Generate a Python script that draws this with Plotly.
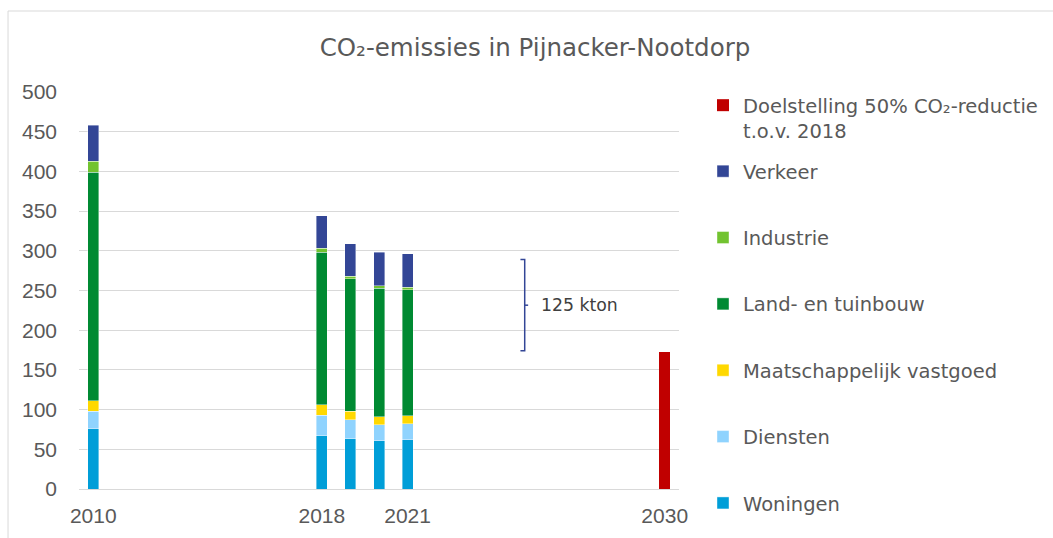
import plotly.graph_objects as go

# ---- data ----
years = [2010, 2018, 2019, 2020, 2021]
woningen = [76, 67, 63, 61, 62]
diensten = [22, 26, 24, 20, 20]
maatsch = [13, 13, 11, 10, 10]
land = [288, 192, 167, 162, 159]
industrie = [14, 5, 3, 3, 3]
verkeer = [45, 41, 41, 42, 42]
target_year = [2030]
target_value = [172]
tick_years = [2010, 2018, 2021, 2030]
bracket_low, bracket_high = 174, 289
bracket_label = "125 kton"

series = [
    ("Woningen", woningen, "#009ED8"),
    ("Diensten", diensten, "#8FD3FE"),
    ("Maatschappelijk vastgoed", maatsch, "#FFD800"),
    ("Land- en tuinbouw", land, "#008A32"),
    ("Industrie", industrie, "#72C330"),
    ("Verkeer", verkeer, "#334696"),
]

FONT = "DejaVu Sans"
NUMFONT = "Liberation Sans"
TXT = "#595959"

fig = go.Figure()
n = len(series)
for i, (name, vals, col) in enumerate(series):
    fig.add_trace(go.Bar(
        x=years, y=vals, name=name, legendgroup=name, legendrank=100 + (n - i),
        marker=dict(color=col, line=dict(color="rgba(255,255,255,0.5)", width=0.8)),
    ))
fig.add_trace(go.Bar(
    x=target_year, y=target_value, name="Doelstelling 50% CO₂-reductie<br>t.o.v. 2018",
    legendgroup="doel", legend="legend2",
    marker=dict(color="#C00000", line=dict(width=0)),
))

# bracket
bx = 2025.1
fig.add_shape(type="path", xref="x", yref="y",
              path=f"M {bx-0.15},{bracket_high} L {bx},{bracket_high} L {bx},{bracket_low} L {bx-0.15},{bracket_low}",
              line=dict(color="#334696", width=1.5))
mid = (bracket_low + bracket_high) / 2
fig.add_shape(type="line", xref="x", yref="y", x0=bx, x1=bx + 0.12, y0=mid, y1=mid,
              line=dict(color="#334696", width=1.5))
fig.add_annotation(x=bx + 0.5, y=mid, xref="x", yref="y", text=bracket_label, showarrow=False,
                   xanchor="left", font=dict(family=FONT, size=17.3, color="#404040"))

# frame
fig.add_shape(type="rect", xref="paper", yref="paper", x0=-0.1183, x1=2, y0=-1, y1=1.204,
              line=dict(color="#D9D9D9", width=1))

W, H = 1053, 538
L, R, T, B = 79, 374, 92, 49
ph = H - T - B
pw = W - L - R

def py(p):
    return (H - B - p) / ph

fig.update_layout(
    width=W, height=H,
    margin=dict(l=L, r=R, t=T, b=B, autoexpand=False),
    barmode="stack", bargap=0.615,
    plot_bgcolor="white", paper_bgcolor="white",
    title=dict(text="CO₂-emissies in Pijnacker-Nootdorp", x=(535 / W), xanchor="center",
               y=1 - 47 / H, yanchor="middle", font=dict(family=FONT, size=24.5, color=TXT)),
    xaxis=dict(range=[2009.5, 2030.5], tickvals=tick_years, showgrid=False, zeroline=False,
               showline=False, ticks="", ticklabelstandoff=12, automargin=False,
               tickfont=dict(family=NUMFONT, size=21, color=TXT)),
    yaxis=dict(range=[0, 500], dtick=50, gridcolor="#D9D9D9", gridwidth=1.3,
               zeroline=True, zerolinecolor="#D9D9D9", zerolinewidth=1.3,
               ticks="", ticklabelstandoff=21, automargin=False,
               tickfont=dict(family=NUMFONT, size=21, color=TXT)),
    showlegend=True,
    legend=dict(x=(703 - L) / pw, y=py(152), xanchor="left", yanchor="top",
                traceorder="grouped", tracegroupgap=38, itemwidth=30, maxheight=600,
                font=dict(family=FONT, size=19.5, color=TXT), bgcolor="rgba(0,0,0,0)"),
    legend2=dict(x=(703 - L) / pw, y=py(86), xanchor="left", yanchor="top",
                 valign="top", itemwidth=30,
                 font=dict(family=FONT, size=19.5, color=TXT), bgcolor="rgba(0,0,0,0)"),
)

fig.write_html("out.html", config={"displayModeBar": False},
               post_script="document.body.style.margin='0';")
